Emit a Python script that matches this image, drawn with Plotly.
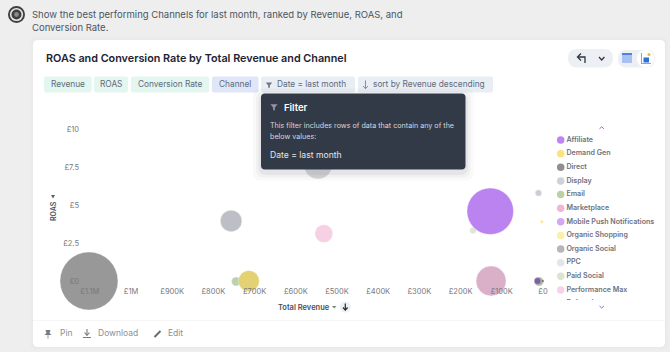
import plotly.graph_objects as go

W, H = 670, 352
FONT = "Inter"

# ---------- data ----------
legend_channels = ["Affiliate", "Demand Gen", "Direct", "Display", "Email", "Marketplace",
                   "Mobile Push Notifications", "Organic Shopping", "Organic Social", "PPC",
                   "Paid Social", "Performance Max", "Referral"]
legend_colors = ["#c084f2", "#fbe37f", "#8f8f8f", "#cdd1da", "#b8d2a6", "#f0b6d6",
                 "#cfa8f6", "#fcefa8", "#b6b6ba", "#e3e5ec", "#d9e5d0", "#f6d3e6", "#ddd0f8"]

bubble_channels = ["Direct", "Email", "Demand Gen", "Organic Social", "PPC", "Performance Max",
                   "Paid Social", "Affiliate", "Marketplace", "Display", "Organic Shopping",
                   "Referral", "Mobile Push Notifications", "Other"]
bubble_revenue = [1102000, 745000, 714000, 757000, 546000, 532000,
                  170000, 128000, 126000, 11000, 3000, 10000, 13000, 1000]
bubble_roas = [0.0, -0.03, 0.0, 3.96, 7.65, 3.13,
               3.33, 4.6, 0.0, 5.8, 3.9, -0.03, 0.0, 0.0]
bubble_size = [58, 9, 21, 21.5, 28, 18, 6.5, 46.5, 30, 6.5, 3, 9, 7, 3]
bubble_colors = ["#959595", "#b9d1a8", "#e4d06f", "#bcbdc5", "#d6d6dc", "#f6d0e4",
                 "#dce6d2", "#b97ff0", "#d9aec8", "#c9cdd6", "#fde56e", "#9dbb8b", "#7d5f9e", "#6f7a60"]

x_tick_vals = [1100000, 1000000, 900000, 800000, 700000, 600000, 500000, 400000, 300000, 200000, 100000, 0]
x_tick_text = ["£1.1M", "£1M", "£900K", "£800K", "£700K", "£600K", "£500K", "£400K", "£300K", "£200K", "£100K", "£0"]
y_tick_vals = [0, 2.5, 5, 7.5, 10]
y_tick_text = ["£0", "£2.5", "£5", "£7.5", "£10"]

prompt_lines = ["Show the best performing Channels for last month, ranked by Revenue, ROAS, and", "Conversion Rate."]
chips = [("Revenue", 44, 91.5, "#e3f6ef", 67.5, "middle"),
         ("ROAS", 94, 128, "#e3f6ef", 111, "middle"),
         ("Conversion Rate", 131, 209, "#e3f6ef", 170, "middle"),
         ("Channel", 212, 258.5, "#dfe6f8", 235, "middle"),
         ("Date = last month", 261, 355, "#e9edf4", 277, "left"),
         ("sort by Revenue descending", 358, 493, "#e9edf4", 373.5, "left")]


# ---------- helpers (page pixels to paper fractions) ----------
def px(x):
    return x / W


def py(y):
    return 1 - y / H


def to_paper_path(pts, close=True):
    s = "M" + " L".join(f"{px(a):.5f},{py(b):.5f}" for a, b in pts)
    return s + (" Z" if close else "")


def round_rect(x0, y0, x1, y1, r, fill, layer="below", opacity=1):
    a, b, c, d = px(x0), py(y0), px(x1), py(y1)
    rx, ry = r / W, r / H
    path = (f"M{a+rx:.5f},{b:.5f} L{c-rx:.5f},{b:.5f} Q{c:.5f},{b:.5f} {c:.5f},{b-ry:.5f} "
            f"L{c:.5f},{d+ry:.5f} Q{c:.5f},{d:.5f} {c-rx:.5f},{d:.5f} L{a+rx:.5f},{d:.5f} "
            f"Q{a:.5f},{d:.5f} {a:.5f},{d+ry:.5f} L{a:.5f},{b-ry:.5f} Q{a:.5f},{b:.5f} {a+rx:.5f},{b:.5f} Z")
    return dict(type="path", xref="paper", yref="paper", path=path, fillcolor=fill,
                line=dict(width=0), layer=layer, opacity=opacity)


def circle(cx, cy, r, fill, layer="below"):
    return dict(type="circle", xref="paper", yref="paper", x0=px(cx - r), x1=px(cx + r),
                y0=py(cy + r), y1=py(cy - r), fillcolor=fill, line=dict(width=0), layer=layer)


def poly(pts, fill, layer="below"):
    return dict(type="path", xref="paper", yref="paper", path=to_paper_path(pts), fillcolor=fill,
                line=dict(width=0), layer=layer)


def stroke(pts, color, width=1.2, layer="below"):
    return dict(type="path", xref="paper", yref="paper", path=to_paper_path(pts, close=False),
                line=dict(color=color, width=width), layer=layer)


def rect(x0, y0, x1, y1, fill, layer="below"):
    return dict(type="rect", xref="paper", yref="paper", x0=px(x0), x1=px(x1), y0=py(y1), y1=py(y0),
                fillcolor=fill, line=dict(width=0), layer=layer)


def text(s, x, y, size, color, anchor="left", weight=400, angle=0):
    return dict(text=s, x=px(x), y=py(y), xref="paper", yref="paper", showarrow=False,
                xanchor=anchor, yanchor="middle", textangle=angle, borderpad=0, borderwidth=0,
                font=dict(family=FONT, size=size, color=color, weight=weight))


def funnel(cx, cy, color, layer="below", s=1.0):
    return poly([(cx - 4 * s, cy - 3 * s), (cx + 4 * s, cy - 3 * s), (cx + 1 * s, cy + 0.5 * s),
                 (cx + 1 * s, cy + 3.5 * s), (cx - 1 * s, cy + 3.5 * s), (cx - 1 * s, cy + 0.5 * s)], color, layer)


shapes = []
ann = []

# card
for grow, alpha in ((3, 0.25), (1.5, 0.35)):
    shapes.append(round_rect(33 - grow, 40 - grow, 665 + grow, 347 + grow, 6, "#e6e6e6", opacity=alpha))
shapes.append(round_rect(33, 40, 665, 347, 5, "#ffffff"))
shapes.append(rect(33, 320, 665, 321, "#f5f5f6"))

# prompt icon and text
shapes += [circle(16.5, 14.5, 8.5, "#3f3f42"), circle(16.5, 14.5, 6.6, "#e6e6e6"),
           circle(16.5, 14.5, 5, "#3f3f42"), circle(16.5, 14.5, 2.4, "#8a8a8d")]
ann.append(text(prompt_lines[0], 32, 14, 9.5, "#4b5563"))
ann.append(text(prompt_lines[1], 32, 27.5, 9.5, "#4b5563"))

# title
ann.append(text("ROAS and Conversion Rate by Total Revenue and Channel", 46, 58.5, 10.8, "#1d2330", weight=600))

# chips
for label, x0, x1, fill, tx, mode in chips:
    shapes.append(round_rect(x0, 76.5, x1, 92.5, 2, fill))
    ann.append(text(label, tx, 84.5, 8.3, "#5f6b7a", anchor="center" if mode == "middle" else "left"))
shapes.append(funnel(269, 85, "#6f7785", s=0.8))
shapes.append(stroke([(365.5, 80.5), (365.5, 88.5)], "#7a8290", 0.9))
shapes.append(stroke([(363, 86), (365.5, 88.7), (368, 86)], "#7a8290", 0.9))

# top-right controls
shapes.append(round_rect(568, 49, 613, 67.5, 9, "#eceff4"))
shapes.append(stroke([(585, 63), (585, 57), (578, 57)], "#2f3540", 1.3))
shapes.append(stroke([(581, 53.5), (577.5, 57), (581, 60.5)], "#2f3540", 1.3))
shapes.append(stroke([(599, 57), (601.7, 60), (604.4, 57)], "#2f3540", 1.3))
shapes.append(round_rect(618, 50, 655, 67.5, 8.7, "#eceff4"))
shapes.append(rect(622, 53, 632, 63, "#a9c0f2"))
shapes.append(rect(622, 53, 632, 55, "#4f80e3"))
shapes.append(circle(645.5, 58.5, 8.8, "#ffffff"))
shapes.append(rect(641, 53, 642, 63.5, "#9aa3b2"))
shapes.append(rect(641, 63, 651, 64, "#9aa3b2"))
shapes.append(rect(643.5, 57.5, 649, 62.5, "#2d6fdc"))
shapes.append(circle(649, 54.5, 1.6, "#f4b73c"))

# axis titles
ann.append(text("ROAS", 53, 211, 7, "#4a4f5a", anchor="center", weight=600, angle=-90))
shapes.append(poly([(51, 195), (55, 195), (53, 198.5)], "#5a5f6a"))
ann.append(text("Total Revenue", 304, 307, 7.5, "#4a4f5a", anchor="center", weight=600))
shapes.append(poly([(332, 306), (336.5, 306), (334.2, 308.5)], "#7a7f8a"))
shapes.append(circle(345.3, 307, 5.6, "#eceff4"))
shapes.append(stroke([(345.3, 303.5), (345.3, 310)], "#23272f", 1.2))
shapes.append(stroke([(343, 307.5), (345.3, 310.2), (347.6, 307.5)], "#23272f", 1.2))

# footer
FOOT = "#8b8f9a"
shapes.append(poly([(45.5, 330), (50.5, 330), (49.5, 333), (51.5, 335), (44.5, 335), (46.5, 333)], "#777b86"))
shapes.append(rect(47.6, 335, 48.4, 338.5, "#777b86"))
ann.append(text("Pin", 60, 333, 8.5, FOOT))
shapes.append(stroke([(87, 329), (87, 335)], "#777b86", 1.1))
shapes.append(stroke([(84.5, 332.5), (87, 335.3), (89.5, 332.5)], "#777b86", 1.1))
shapes.append(rect(83, 337, 91, 338, "#777b86"))
ann.append(text("Download", 98, 333, 8.5, FOOT))
shapes.append(stroke([(154.5, 337), (160.5, 331)], "#666a75", 2))
ann.append(text("Edit", 168, 333, 8.5, FOOT))

# legend chevrons
shapes.append(stroke([(599.5, 128.8), (601.7, 126.8), (603.9, 128.8)], "#9b5cf0", 1))
shapes.append(stroke([(599.5, 306), (601.7, 308), (603.9, 306)], "#9b5cf0", 1))

# tooltip (drawn above the bubbles)
for grow, alpha in ((8, 0.03), (5, 0.04), (2.5, 0.06)):
    shapes.append(round_rect(261 - grow, 93.5 - grow + 3, 465.5 + grow, 169.5 + grow + 3, 8, "#333a47", layer="above", opacity=alpha))
shapes.append(round_rect(261, 93.5, 465.5, 169.5, 4, "#333a47", layer="above"))
shapes.append(funnel(274, 107, "#8f95a1", layer="above", s=0.9))
ann.append(text("Filter", 284, 107, 9.5, "#ffffff", weight=600))
ann.append(text("This filter includes rows of data that contain any of the", 270, 126, 7.17, "#d5d8de"))
ann.append(text("below values:", 270, 136.7, 7.17, "#d5d8de"))
ann.append(text("Date = last month", 270, 154.5, 8.6, "#e3e5ea"))

fig = go.Figure()

for ch, rev, roas, size, col in zip(bubble_channels, bubble_revenue, bubble_roas, bubble_size, bubble_colors):
    fig.add_trace(go.Scatter(
        x=[rev], y=[roas], mode="markers", name=ch, showlegend=False, cliponaxis=False,
        marker=dict(size=size, sizemode="diameter", color=col, opacity=0.97,
                    line=dict(width=0.8, color="rgba(255,255,255,0.45)")),
    ))

fig.add_trace(go.Scatter(
    x=[0] * len(legend_channels), y=legend_channels, xaxis="x2", yaxis="y2",
    mode="markers+text", text=legend_channels, textposition="middle right", showlegend=False,
    textfont=dict(family=FONT, size=7.1, color="#6e727e", weight=600),
    marker=dict(size=7.5, color=legend_colors), cliponaxis=True,
))

TICK = "#77797f"
fig.update_layout(
    template="none",
    width=W, height=H, margin=dict(l=0, r=0, t=0, b=0, pad=0), autosize=False,
    paper_bgcolor="#eeeeee", plot_bgcolor="rgba(0,0,0,0)",
    shapes=shapes, annotations=ann, showlegend=False,
    xaxis=dict(domain=[px(80), px(555)], range=[1123786, -29126], tickmode="array",
               tickvals=x_tick_vals, ticktext=x_tick_text, showgrid=False, zeroline=False,
               showline=False, ticks="", tickfont=dict(family=FONT, size=7.5, color=TICK),
               anchor="y", layer="above traces", automargin=False),
    yaxis=dict(domain=[py(285.5), py(120)], range=[-0.297, 10.62], tickmode="array",
               tickvals=y_tick_vals, ticktext=y_tick_text, showgrid=False, zeroline=False,
               showline=False, ticks="", tickfont=dict(family=FONT, size=7.5, color=TICK),
               anchor="x", layer="above traces", automargin=False),
    xaxis2=dict(domain=[px(555), px(668)], range=[-5.7, 107.3], visible=False, anchor="y2"),
    yaxis2=dict(domain=[py(300), py(134)], range=[11.737, -0.44], visible=False, anchor="x2",
                type="category", categoryorder="array", categoryarray=legend_channels),
    hovermode=False,
)

fig.write_html("out.html", config={"displayModeBar": False},
               post_script="document.body.style.margin='0';document.documentElement.style.background='#eeeeee';")
